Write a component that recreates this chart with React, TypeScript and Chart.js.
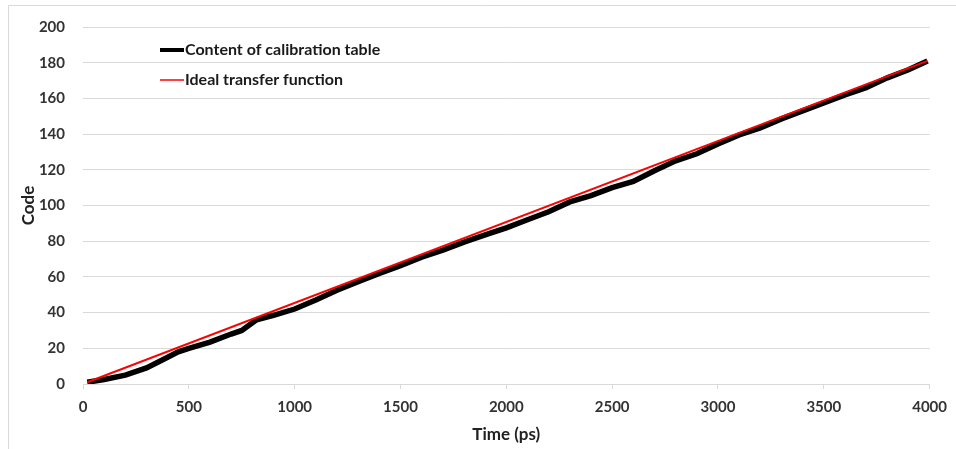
import React, { useEffect, useRef } from "react";
import { Chart, registerables } from "chart.js";

Chart.register(...registerables);

const timePs = [20, 100, 200, 300, 400, 450, 500, 600, 700, 750, 820, 900, 1000, 1100, 1200, 1300, 1400, 1500, 1600, 1700, 1800, 1900, 2000, 2100, 2200, 2300, 2400, 2500, 2600, 2700, 2800, 2900, 3000, 3100, 3200, 3300, 3400, 3500, 3600, 3700, 3800, 3900, 3990];
const calibrationCode = [1, 2.5, 5, 9, 15, 18, 20, 23.5, 28, 30, 36, 38.5, 42, 47, 52.5, 57.3, 62, 66.3, 71, 75, 79.5, 83.5, 87.5, 92, 96.5, 102, 105.5, 110, 113.5, 119.5, 125, 129, 134.5, 139.5, 143.5, 148.5, 153, 157.5, 162, 166, 171.5, 176, 181];

const idealTimePs = [20, 3990];
const idealCode = [1, 181];

const xTicks = [0, 500, 1000, 1500, 2000, 2500, 3000, 3500, 4000];
const yTicks = [0, 20, 40, 60, 80, 100, 120, 140, 160, 180, 200];

const seriesNames = ["Content of calibration table", "Ideal transfer function"];
const seriesColors = ["#000000", "#ff0000"];

const FONT = "Lato";

export default function App() {
  const ref = useRef<HTMLCanvasElement | null>(null);

  useEffect(() => {
    if (!ref.current) return;
    const borderPlugin = {
      id: "border",
      beforeDraw(chart: any) {
        const ctx = chart.ctx;
        ctx.save();
        ctx.fillStyle = "#ffffff";
        ctx.fillRect(0, 0, chart.width, chart.height);
        ctx.strokeStyle = "#d9d9d9";
        ctx.lineWidth = 1;
        ctx.beginPath();
        ctx.moveTo(8.5, chart.height);
        ctx.lineTo(8.5, 5.5);
        ctx.lineTo(chart.width, 5.5);
        ctx.stroke();
        ctx.restore();
      },
    };
    const legendPlugin = {
      id: "customLegend",
      afterDraw(chart: any) {
        const ctx = chart.ctx;
        ctx.save();
        const rows = [
          { y: 50, w: 4 },
          { y: 80, w: 1.5 },
        ];
        rows.forEach((r, i) => {
          ctx.strokeStyle = seriesColors[i];
          ctx.lineWidth = r.w;
          ctx.beginPath();
          ctx.moveTo(160, r.y);
          ctx.lineTo(184, r.y);
          ctx.stroke();
          ctx.fillStyle = "#1a1a1a";
          ctx.font = `bold 16px ${FONT}`;
          ctx.textAlign = "left";
          ctx.textBaseline = "middle";
          ctx.fillText(seriesNames[i], 185, r.y);
        });
        ctx.restore();
      },
    };

    const chart = new Chart(ref.current, {
      type: "line",
      data: {
        datasets: [
          {
            label: seriesNames[0],
            data: timePs.map((t, i) => ({ x: t, y: calibrationCode[i] })),
            borderColor: seriesColors[0],
            backgroundColor: seriesColors[0],
            borderWidth: 5.5,
            pointRadius: 0,
            tension: 0,
            order: 1,
          },
          {
            label: seriesNames[1],
            data: idealTimePs.map((t, i) => ({ x: t, y: idealCode[i] })),
            borderColor: seriesColors[1],
            backgroundColor: seriesColors[1],
            borderWidth: 2,
            pointRadius: 0,
            tension: 0,
            order: 0,
          },
        ],
      },
      options: {
        animation: false,
        responsive: false,
        maintainAspectRatio: false,
        layout: { padding: { left: 0, top: 27, right: 23, bottom: 0 } },
        plugins: {
          legend: { display: false },
          tooltip: { enabled: false },
        },
        scales: {
          x: {
            type: "linear",
            min: 0,
            max: 4000,
            afterBuildTicks: (s: any) => {
              s.ticks = xTicks.map((v) => ({ value: v }));
            },
            afterFit: (s: any) => {
              s.height = 65;
            },
            grid: {
              drawOnChartArea: false,
              drawTicks: true,
              tickLength: 5,
              color: "#d9d9d9",
            },
            border: { display: true, color: "#d9d9d9" },
            ticks: {
              color: "#333333",
              font: { family: FONT, size: 15, weight: "bold" },
              padding: 9,
              maxRotation: 0,
              callback: (v: any) => String(v),
            },
            title: {
              display: true,
              text: "Time (ps)",
              color: "#222222",
              font: { family: FONT, size: 17, weight: "bold" },
              padding: { top: 0, bottom: 4 },
            },
          },
          y: {
            type: "linear",
            min: 0,
            max: 200,
            afterBuildTicks: (s: any) => {
              s.ticks = yTicks.map((v) => ({ value: v }));
            },
            afterFit: (s: any) => {
              s.width = 83;
            },
            grid: {
              drawTicks: false,
              color: "#d9d9d9",
              lineWidth: 1,
            },
            border: { display: false },
            ticks: {
              color: "#333333",
              font: { family: FONT, size: 15, weight: "bold" },
              padding: 18,
              callback: (v: any) => String(v),
            },
            title: {
              display: true,
              text: "Code",
              color: "#222222",
              font: { family: FONT, size: 17, weight: "bold" },
              padding: { top: 18, bottom: 0 },
            },
          },
        },
      },
      plugins: [borderPlugin, legendPlugin],
    } as any);
    return () => chart.destroy();
  }, []);

  return (
    <div style={{ position: "absolute", left: 0, top: 0, width: 956, height: 449 }}>
      <canvas ref={ref} width={956} height={449} style={{ width: 956, height: 449, display: "block" }} />
    </div>
  );
}
